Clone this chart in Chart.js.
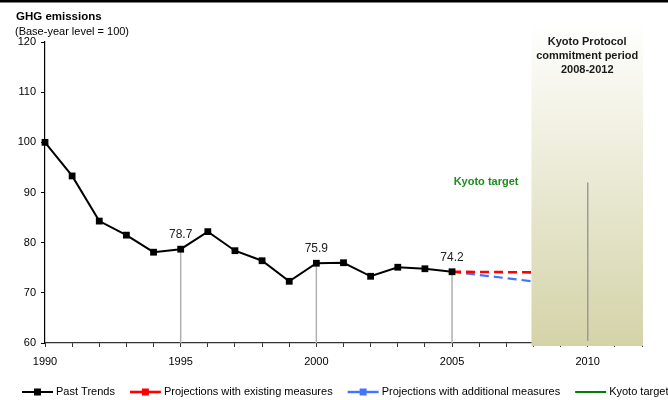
<!DOCTYPE html>
<html>
<head>
<meta charset="utf-8">
<script src="https://cdn.jsdelivr.net/npm/chart.js@4/dist/chart.umd.min.js"></script>
<style>
  html, body { margin: 0; padding: 0; background: #fff; overflow: hidden; }
  #wrap { width: 668px; height: 400px; position: relative; }
</style>
</head>
<body>
<div id="wrap"><canvas id="c" width="668" height="400"></canvas></div>
<script>
// Greenhouse gas emissions, index base year = 100
const pastYears = [1990, 1991, 1992, 1993, 1994, 1995, 1996, 1997, 1998, 1999, 2000, 2001, 2002, 2003, 2004, 2005];
const pastValues = [100.0, 93.3, 84.3, 81.5, 78.1, 78.7, 82.2, 78.4, 76.4, 72.3, 75.9, 76.0, 73.3, 75.1, 74.8, 74.2];

const projectionYears = [2005, 2010];
const existingMeasures = [74.2, 74.0];
const additionalMeasures = [74.2, 71.0];

const targetYears = [2010];
const kyotoTarget = [92.0];

const labelledYears = [1995, 2000, 2005];
const commitmentPeriod = [2008, 2012];

const xRange = [1990, 2012];
const yRange = [60, 120];
const yStep = 10;

const FONT = "'Liberation Sans', Arial, Helvetica, sans-serif";

const toPoints = (xs, ys) => xs.map((v, i) => ({ x: v, y: ys[i] }));

const overlay = {
  id: 'overlay',
  beforeDatasetsDraw(chart) {
    const { ctx, chartArea: a, scales: { x, y } } = chart;
    ctx.save();
    ctx.strokeStyle = '#b0b0b0';
    ctx.lineWidth = 1.5;
    labelledYears.forEach(yr => {
      const v = pastValues[pastYears.indexOf(yr)];
      const px = x.getPixelForValue(yr);
      ctx.beginPath();
      ctx.moveTo(px, y.getPixelForValue(v));
      ctx.lineTo(px, a.bottom);
      ctx.stroke();
    });
    ctx.restore();
  },
  afterDatasetsDraw(chart) {
    const { ctx, chartArea: a, scales: { x, y } } = chart;
    ctx.save();

    // commitment period band
    const bx0 = x.getPixelForValue(commitmentPeriod[0]) - 2;
    const bx1 = x.getPixelForValue(commitmentPeriod[1]) + 1;
    const bTop = 22, bBottom = a.bottom + 3;
    const g = ctx.createLinearGradient(0, bTop, 0, bBottom);
    g.addColorStop(0, '#ffffff');
    g.addColorStop(1, '#d4d3a8');
    ctx.fillStyle = g;
    ctx.fillRect(bx0, bTop, bx1 - bx0, bBottom - bTop);

    // target drop line
    const tx = x.getPixelForValue(targetYears[0]);
    ctx.strokeStyle = '#9a9a9a';
    ctx.lineWidth = 1.5;
    ctx.beginPath();
    ctx.moveTo(tx, y.getPixelForValue(kyotoTarget[0]));
    ctx.lineTo(tx, a.bottom - 2);
    ctx.stroke();

    // band heading
    ctx.fillStyle = '#1a1a1a';
    ctx.font = 'bold 11px ' + FONT;
    ctx.textAlign = 'center';
    ctx.textBaseline = 'middle';
    const cx = (bx0 + bx1) / 2;
    ['Kyoto Protocol', 'commitment period', '2008-2012'].forEach((t, i) => {
      ctx.fillText(t, cx, 42 + i * 13.8);
    });

    // target label
    ctx.fillStyle = '#1f8c1f';
    ctx.textAlign = 'right';
    ctx.fillText('Kyoto target', x.getPixelForValue(commitmentPeriod[0]) - 15, y.getPixelForValue(kyotoTarget[0]));

    // value labels
    ctx.fillStyle = '#222';
    ctx.font = '12px ' + FONT;
    ctx.textAlign = 'center';
    labelledYears.forEach(yr => {
      const v = pastValues[pastYears.indexOf(yr)];
      ctx.fillText(v.toFixed(1), x.getPixelForValue(yr), y.getPixelForValue(v) - 14.5);
    });

    // heading
    ctx.fillStyle = '#000';
    ctx.textAlign = 'left';
    ctx.textBaseline = 'alphabetic';
    ctx.font = 'bold 11.5px ' + FONT;
    ctx.fillText('GHG emissions', 16, 19.5);
    ctx.font = '11px ' + FONT;
    ctx.fillText('(Base-year level = 100)', 15, 35);

    // frame line at the top
    ctx.fillRect(0, 0, chart.width, 2.5);

    // legend
    const ly = 392;
    let lx = 22;
    ctx.textBaseline = 'middle';
    ctx.font = '11px ' + FONT;
    chart.data.datasets.forEach(ds => {
      ctx.strokeStyle = ds.borderColor;
      ctx.lineWidth = ds.legendLineWidth;
      ctx.setLineDash([]);
      ctx.beginPath();
      ctx.moveTo(lx, ly);
      ctx.lineTo(lx + 31, ly);
      ctx.stroke();
      if (ds.legendMarker) {
        ctx.fillStyle = ds.pointBackgroundColor;
        ctx.fillRect(lx + 15.5 - 3.5, ly - 3.5, 7, 7);
      }
      ctx.fillStyle = '#000';
      ctx.fillText(ds.label, lx + 34, ly);
      lx += 34 + ctx.measureText(ds.label).width + 15;
    });

    ctx.restore();
  }
};

new Chart(document.getElementById('c'), {
  type: 'line',
  data: {
    datasets: [
      {
        label: 'Past Trends',
        data: toPoints(pastYears, pastValues),
        borderColor: '#000',
        backgroundColor: '#000',
        pointBackgroundColor: '#000',
        pointBorderWidth: 0,
        borderWidth: 2,
        pointStyle: 'rect',
        pointRadius: 4.8,
        legendLineWidth: 2,
        legendMarker: true,
        clip: false,
        order: 0
      },
      {
        label: 'Projections with existing measures',
        data: toPoints(projectionYears, existingMeasures),
        borderColor: '#ff0000',
        backgroundColor: '#ff0000',
        pointBackgroundColor: '#ff0000',
        borderWidth: 2.6,
        borderDash: [9, 5],
        pointStyle: 'rect',
        pointRadius: 0,
        legendLineWidth: 2.6,
        legendMarker: true,
        clip: false,
        order: 1
      },
      {
        label: 'Projections with additional measures',
        data: toPoints(projectionYears, additionalMeasures),
        borderColor: '#4474ff',
        backgroundColor: '#4474ff',
        pointBackgroundColor: '#4474ff',
        borderWidth: 2.2,
        borderDash: [9, 5],
        pointStyle: 'rect',
        pointRadius: 0,
        legendLineWidth: 2.4,
        legendMarker: true,
        clip: false,
        order: 2
      },
      {
        label: 'Kyoto target',
        data: toPoints(targetYears, kyotoTarget),
        borderColor: '#008000',
        backgroundColor: '#008000',
        borderWidth: 2,
        pointRadius: 0,
        legendLineWidth: 2,
        legendMarker: false,
        order: 3
      }
    ]
  },
  options: {
    responsive: false,
    animation: false,
    devicePixelRatio: 1,
    layout: { padding: { top: 42, right: 26, left: 0, bottom: 0 } },
    plugins: {
      legend: { display: false },
      title: { display: false },
      tooltip: { enabled: false }
    },
    scales: {
      x: {
        type: 'linear',
        min: xRange[0],
        max: xRange[1],
        afterFit(s) { s.height = 57; },
        afterBuildTicks(s) {
          const t = [];
          for (let v = xRange[0]; v <= xRange[1]; v++) t.push({ value: v });
          s.ticks = t;
        },
        ticks: {
          autoSkip: false,
          maxRotation: 0,
          padding: 8,
          color: '#000',
          font: { family: FONT, size: 11 },
          callback: v => (v % 5 === 0 ? String(v) : '')
        },
        grid: { drawOnChartArea: false, drawTicks: true, tickLength: 4, color: '#333', lineWidth: 1 },
        border: { display: true, color: '#333', width: 1.2 }
      },
      y: {
        min: yRange[0],
        max: yRange[1],
        afterFit(s) { s.width = 45; },
        ticks: {
          stepSize: yStep,
          padding: 5,
          color: '#000',
          font: { family: FONT, size: 11 },
          callback: v => String(v)
        },
        grid: { drawOnChartArea: false, drawTicks: true, tickLength: 4, color: '#000', lineWidth: 1 },
        border: { display: true, color: '#000', width: 1.2 }
      }
    }
  },
  plugins: [overlay]
});
</script>
</body>
</html>
